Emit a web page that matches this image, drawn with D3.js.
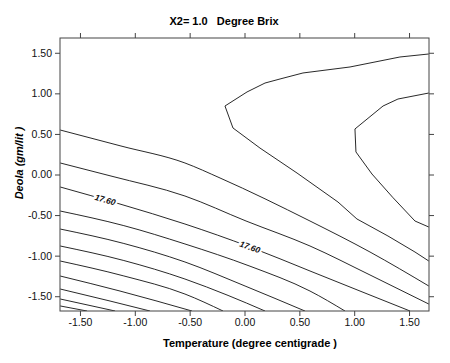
<!DOCTYPE html>
<html>
<head>
<meta charset="utf-8">
<script src="https://cdn.jsdelivr.net/npm/d3@7"></script>
<style>
  body { margin: 0; background: #fff; }
  text { font-family: "Liberation Sans", Arial, sans-serif; }
</style>
</head>
<body>
<div id="chart"></div>
<script>
// axis ticks
var tickValues = [-1.5, -1, -0.5, 0, 0.5, 1, 1.5];
var axisRange = [-1.682, 1.682];

// contour lines as [temperature, deola]
var outerContour = [[1.68, 1.485], [1.417, 1.448], [0.962, 1.325], [0.533, 1.251], [0.324, 1.177],
    [0.187, 1.127], [0.023, 1.017], [-0.178, 0.844], [-0.105, 0.573], [0.141, 0.326],
    [0.479, 0.018], [0.852, -0.339], [1.025, -0.548], [1.308, -0.758], [1.554, -0.955], [1.68, -1.066]];
var innerContour = [[1.68, 1.004], [1.399, 0.930], [1.263, 0.844], [1.007, 0.561], [1.016, 0.278],
    [1.162, 0.006], [1.35, -0.28], [1.554, -0.573], [1.68, -0.647]];
var line1 = [[-1.68, 0.548], [-1.126, 0.351], [-0.543, 0.142], [-0.223, -0.043], [0.597, -0.573], [1.144, -0.955], [1.68, -1.374]];
var line2 = [[-1.68, 0.142], [-1.217, -0.019], [-0.543, -0.265], [0.014, -0.573], [0.597, -0.881], [1.144, -1.238], [1.68, -1.596]];
var line3 = [[-1.68, -0.154], [-1.135, -0.364], [-0.543, -0.610], [0.05, -0.893], [0.597, -1.189], [1.053, -1.436], [1.509, -1.682]];
var line4 = [[-1.68, -0.450], [-1.1, -0.63], [-0.543, -0.856], [0.05, -1.13], [0.597, -1.436], [0.916, -1.682]];
var line5 = [[-1.68, -0.672], [-1.1, -0.85], [-0.543, -1.078], [0.005, -1.374], [0.551, -1.682]];
var line6 = [[-1.68, -0.881], [-1.1, -1.06], [-0.543, -1.288], [-0.15, -1.49], [0.187, -1.682]];
var line7 = [[-1.68, -1.066], [-1.1, -1.25], [-0.543, -1.473], [-0.196, -1.682]];
var line8 = [[-1.68, -1.251], [-1.135, -1.436], [-0.479, -1.682]];
var line9 = [[-1.68, -1.411], [-1.226, -1.559], [-0.862, -1.682]];
var line10 = [[-1.68, -1.534], [-1.18, -1.682]];
var line11 = [[-1.68, -1.62], [-1.436, -1.682]];

var closedLines = [outerContour, innerContour];
var slopeLines = [line1, line2, line3, line4, line5, line6, line7, line8, line9, line10, line11];

// contour labels sit on line3
var labelText = "17.60";
var labelAt = [-1.27, 0.05];

var margin = {top: 38, right: 21, bottom: 52, left: 60};
var width = 450 - margin.left - margin.right,
    height = 363 - margin.top - margin.bottom;

var svg = d3.select("#chart")
    .append("svg")
    .attr("width", 450)
    .attr("height", 363);

var g = svg.append("g")
    .attr("transform", "translate(" + margin.left + "," + margin.top + ")");

var x = d3.scaleLinear().domain(axisRange).range([0, width]);
var y = d3.scaleLinear().domain(axisRange).range([height, 0]);

var fmt = function(d) { return d3.format(".2f")(d).replace("\u2212", "-"); };

function styleAxis(sel) {
    sel.select(".domain").remove();
    sel.selectAll(".tick line").attr("stroke", "#444");
    sel.selectAll(".tick text")
        .style("font-family", "'Liberation Sans', Arial, sans-serif")
        .style("font-size", "10.5px")
        .attr("fill", "#111");
}

g.append("g")
    .attr("transform", "translate(0," + height + ")")
    .call(d3.axisBottom(x).tickValues(tickValues).tickFormat(fmt).tickSize(5).tickPadding(3))
    .call(styleAxis);
g.append("g")
    .call(d3.axisTop(x).tickValues(tickValues).tickFormat("").tickSize(5))
    .call(styleAxis);
g.append("g")
    .call(d3.axisLeft(y).tickValues(tickValues).tickFormat(fmt).tickSize(5).tickPadding(3))
    .call(styleAxis);
g.append("g")
    .attr("transform", "translate(" + width + ",0)")
    .call(d3.axisRight(y).tickValues(tickValues).tickFormat("").tickSize(5))
    .call(styleAxis);

g.append("defs").append("clipPath").attr("id", "clip")
    .append("rect").attr("width", width).attr("height", height);

var line = d3.line()
    .x(function(d) { return x(d[0]); })
    .y(function(d) { return y(d[1]); });
var smoothLine = d3.line()
    .x(function(d) { return x(d[0]); })
    .y(function(d) { return y(d[1]); })
    .curve(d3.curveMonotoneX);

var lines = g.append("g").attr("clip-path", "url(#clip)");

lines.selectAll(".closed")
    .data(closedLines)
    .join("path")
    .attr("class", "closed")
    .attr("d", line)
    .attr("fill", "none")
    .attr("stroke", "#111")
    .attr("stroke-width", 0.9);

lines.selectAll(".slope")
    .data(slopeLines)
    .join("path")
    .attr("class", "slope")
    .attr("d", smoothLine)
    .attr("fill", "none")
    .attr("stroke", "#111")
    .attr("stroke-width", 0.9);

// labels along line3
function yOn(pts, vx) {
    for (var i = 0; i < pts.length - 1; i++) {
        if (vx >= pts[i][0] && vx <= pts[i + 1][0]) {
            var t = (vx - pts[i][0]) / (pts[i + 1][0] - pts[i][0]);
            return {vy: pts[i][1] + t * (pts[i + 1][1] - pts[i][1]), a: pts[i], b: pts[i + 1]};
        }
    }
}
g.selectAll(".clabel")
    .data(labelAt)
    .join("text")
    .attr("class", "clabel")
    .each(function(d) {
        var p = yOn(line3, d);
        var ang = Math.atan2(y(p.b[1]) - y(p.a[1]), x(p.b[0]) - x(p.a[0])) * 180 / Math.PI;
        d3.select(this)
            .attr("transform", "translate(" + x(d) + "," + y(p.vy) + ") rotate(" + ang + ")");
    })
    .attr("text-anchor", "middle")
    .attr("dy", "0.35em")
    .style("font-size", "8.5px")
    .style("font-weight", "bold")
    .style("font-style", "italic")
    .attr("fill", "#111")
    .attr("stroke", "#fff")
    .attr("stroke-width", 4)
    .style("paint-order", "stroke")
    .text(labelText);

// frame
g.append("rect")
    .attr("width", width)
    .attr("height", height)
    .attr("fill", "none")
    .attr("stroke", "#444")
    .attr("stroke-width", 1);

// title and axis labels
svg.append("text")
    .attr("x", 224)
    .attr("y", 25)
    .attr("text-anchor", "middle")
    .style("font-size", "11px")
    .style("font-weight", "bold")
    .style("white-space", "pre")
    .attr("xml:space", "preserve")
    .text("X2= 1.0   Degree Brix");

svg.append("text")
    .attr("x", 250)
    .attr("y", 347)
    .attr("text-anchor", "middle")
    .style("font-size", "11px")
    .style("font-weight", "bold")
    .text("Temperature (degree centigrade )");

svg.append("text")
    .attr("transform", "translate(23,163) rotate(-90)")
    .attr("text-anchor", "middle")
    .style("font-size", "11px")
    .style("font-weight", "bold")
    .style("font-style", "italic")
    .text("Deola (gm/lit )");
</script>
</body>
</html>
